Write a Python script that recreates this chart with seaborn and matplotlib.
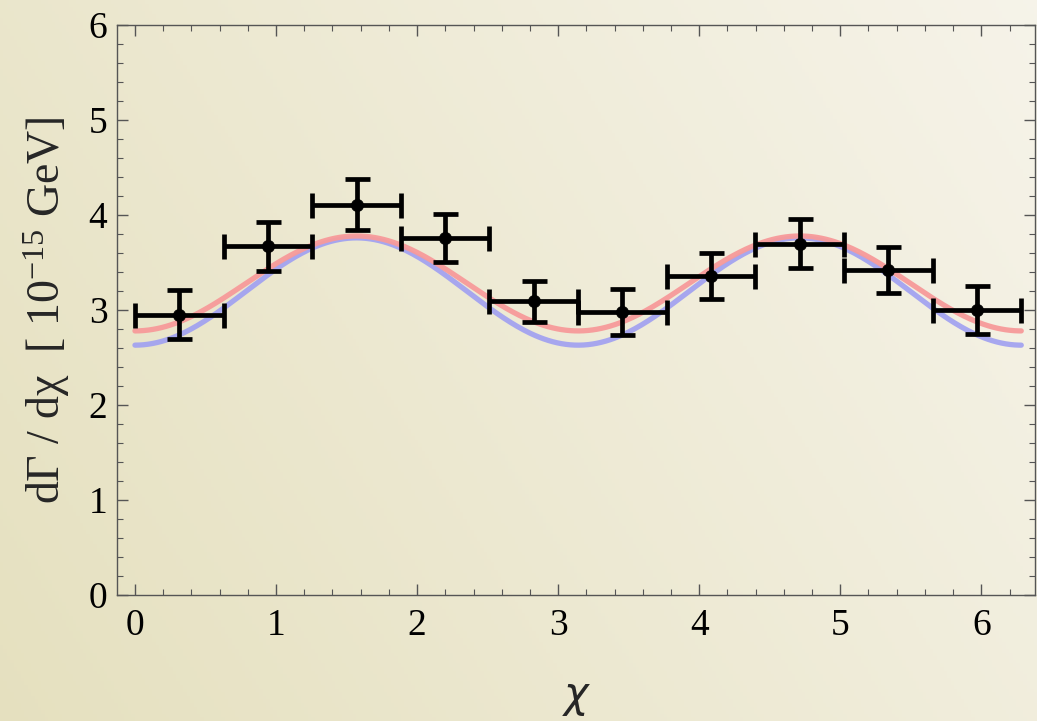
import numpy as np
import pandas as pd
import matplotlib
matplotlib.use("Agg")
import matplotlib.pyplot as plt
from matplotlib.ticker import MultipleLocator
import seaborn as sns

# ---- data ----
chi_centers = [0.314, 0.942, 1.571, 2.199, 2.827, 3.456, 4.084, 4.712, 5.341, 5.969]
chi_halfwidth = [0.314] * 10
rate_values = [2.95, 3.67, 4.11, 3.76, 3.09, 2.98, 3.36, 3.70, 3.42, 3.00]
rate_errors = [0.26, 0.26, 0.27, 0.25, 0.22, 0.24, 0.24, 0.26, 0.24, 0.25]

# model curves: offset - amplitude * cos(2 chi)
red_offset, red_amplitude = 3.28, 0.50
blue_offset, blue_amplitude = 3.195, 0.565

x_ticks = [0, 1, 2, 3, 4, 5, 6]
y_ticks = [0, 1, 2, 3, 4, 5, 6]

sns.set_theme(style="ticks")
plt.rcParams["font.family"] = ["Liberation Serif", "DejaVu Serif"]
plt.rcParams["mathtext.fontset"] = "custom"
plt.rcParams["mathtext.rm"] = "Liberation Serif"
plt.rcParams["mathtext.default"] = "regular"

fig = plt.figure(figsize=(10.37, 7.21), dpi=100)

# background gradient
bg = fig.add_axes([0, 0, 1, 1], zorder=-10)
xx, yy = np.meshgrid(np.linspace(0, 1, 300), np.linspace(0, 1, 200))
t = np.clip(0.7 * xx + 0.3 * yy, 0, 1)
c0 = np.array([0.90, 0.88, 0.75])
c1 = np.array([0.965, 0.955, 0.915])
img = c0[None, None, :] * (1 - t[..., None]) + c1[None, None, :] * t[..., None]
bg.imshow(img, aspect="auto", extent=[0, 1, 0, 1], origin="lower")
bg.set_axis_off()

ax = fig.add_axes([0.113, 0.175, 0.885, 0.790])
ax.set_facecolor("none")

chi = np.linspace(0, 2 * np.pi, 400)
curves = pd.DataFrame({
    "chi": np.concatenate([chi, chi]),
    "rate": np.concatenate([red_offset - red_amplitude * np.cos(2 * chi),
                            blue_offset - blue_amplitude * np.cos(2 * chi)]),
    "model": ["red"] * len(chi) + ["blue"] * len(chi),
})
sns.lineplot(data=curves, x="chi", y="rate", hue="model",
             palette={"red": "#f79a9a", "blue": "#a3a3f0"},
             hue_order=["blue", "red"], linewidth=3.8, legend=False, ax=ax,
             alpha=0.95)

pts = pd.DataFrame({"chi": chi_centers, "rate": rate_values})
ax.errorbar(chi_centers, rate_values, xerr=chi_halfwidth, yerr=rate_errors,
            fmt="none", ecolor="black", elinewidth=3.4, capsize=9,
            capthick=3.4, zorder=5)
sns.scatterplot(data=pts, x="chi", y="rate", color="black", s=75,
                edgecolor="black", ax=ax, zorder=6)

ax.set_xlim(-0.126, 6.38)
ax.set_ylim(0, 6)
ax.set_xticks(x_ticks)
ax.set_yticks(y_ticks)
ax.xaxis.set_minor_locator(MultipleLocator(0.2))
ax.yaxis.set_minor_locator(MultipleLocator(0.2))
ax.tick_params(which="both", direction="in", top=True, right=True,
               color="#555555", labelsize=27, labelcolor="black", pad=7)
ax.tick_params(axis="x", which="major", pad=10)
ax.tick_params(which="major", length=8, width=1.0)
ax.tick_params(which="minor", length=4, width=0.8)
for s in ax.spines.values():
    s.set_color("#555555")
    s.set_linewidth(1.0)

ax.set_xlabel("χ", fontsize=30, family=["DejaVu Sans"], style="italic",
              labelpad=22)
ax.set_ylabel("dΓ / dχ  [ 10$^{-15}$ GeV]", fontsize=33, labelpad=12)

fig.savefig("out.png", dpi=100)
